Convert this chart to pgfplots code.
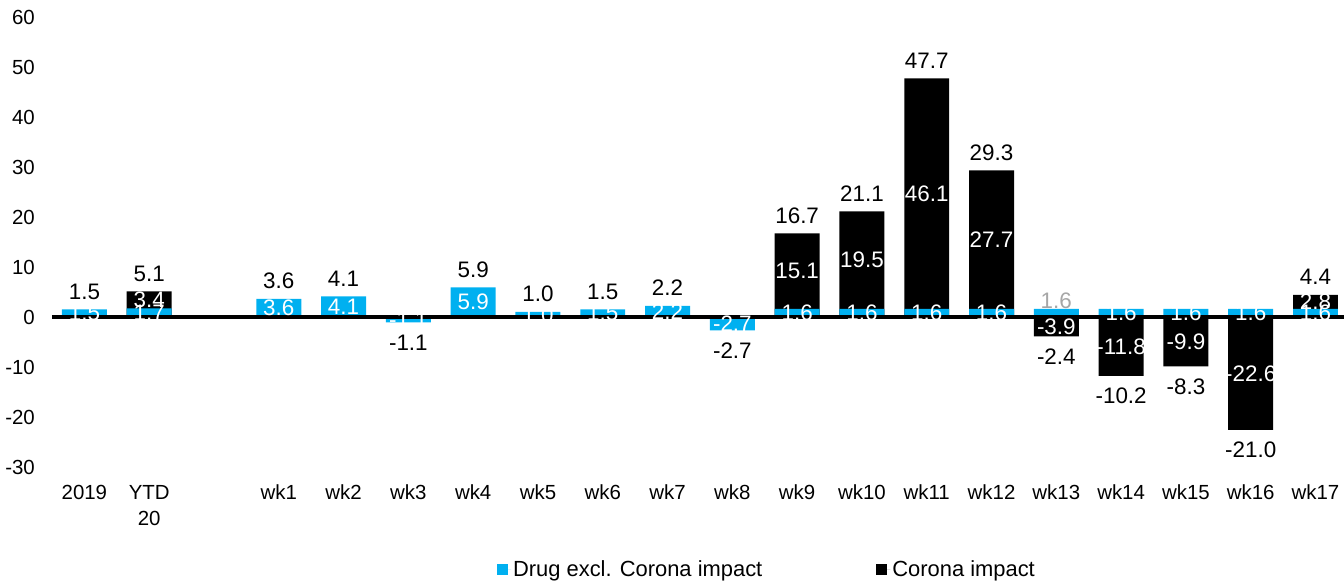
\documentclass[border=0pt]{standalone}
\usepackage{fontspec}
\setmainfont{Liberation Sans}
\usepackage{pgfplots}
\usepackage{pgfplotstable}
\pgfplotsset{compat=1.18}
\definecolor{cblue}{RGB}{0,176,240}
\definecolor{cgray}{RGB}{166,166,166}

\pgfplotstableread{
x drug corona total
0 1.5 0 1.5
1 1.7 3.4 5.1
3 3.6 0 3.6
4 4.1 0 4.1
5 -1.1 0 -1.1
6 5.9 0 5.9
7 1.0 0 1.0
8 1.5 0 1.5
9 2.2 0 2.2
10 -2.7 0 -2.7
11 1.6 15.1 16.7
12 1.6 19.5 21.1
13 1.6 46.1 47.7
14 1.6 27.7 29.3
15 1.6 -3.9 -2.4
16 1.6 -11.8 -10.2
17 1.6 -9.9 -8.3
18 1.6 -22.6 -21.0
19 1.6 2.8 4.4
}\data

\begin{document}
\begin{tikzpicture}
\begin{axis}[
  name=ax,
  width=1292bp, height=450bp, scale only axis,
  xmin=-0.5, xmax=19.44, ymin=-30, ymax=60,
  ytick={-30,-20,-10,0,10,20,30,40,50,60},
  xtick={0,1,3,4,5,6,7,8,9,10,11,12,13,14,15,16,17,18,19},
  xticklabels={2019,{YTD\\20},wk1,wk2,wk3,wk4,wk5,wk6,wk7,wk8,wk9,wk10,wk11,wk12,wk13,wk14,wk15,wk16,wk17},
  axis line style={draw=none},
  major tick length=0pt,
  clip=false,
  /pgf/number format/assume math mode=true,
  ticklabel style={font=\fontsize{20.5}{26}\selectfont},
  xticklabel style={align=center, inner sep=0pt, anchor=north, yshift=-18bp},
  yticklabel style={inner sep=0pt, anchor=east, xshift=-17bp},
  legend style={draw=none, fill=none, at={(0.342,-0.2278)}, anchor=west,
    legend columns=2, font=\fontsize{22}{26}\selectfont,
    /tikz/every even column/.append style={column sep=112bp}},
  legend image code/.code={\fill[#1] (0bp,-5.5bp) rectangle (11bp,5.5bp); \path (0bp,0bp) -- (14bp,0bp);},
]
% black (corona) bars, drawn from 0 to the end of the corona segment
\addplot[ybar, bar width=0.694, bar shift=0pt, fill=black, draw=none, forget plot]
  table[x=x, y expr={(\thisrow{corona}>0) ? (\thisrow{drug}+\thisrow{corona}) : (\thisrow{corona})}] {\data};
% blue (drug) bars
\addplot[ybar, bar width=0.694, bar shift=0pt, fill=cblue, draw=none, forget plot]
  table[x=x, y=drug] {\data};
% zero line
\addplot[black, line width=3.5bp, forget plot] coordinates {(-0.5,0) (19.44,0)};
% blue segment labels
\addplot[only marks, mark=none, forget plot, nodes near coords, point meta=explicit symbolic,
  every node near coord/.append style={anchor=center, inner sep=0pt, text=white, font=\fontsize{22.5}{26}\selectfont},
  restrict expr to domain={abs(\thisrow{x}-15)}{0.5:100}]
  table[x=x, y expr={\thisrow{drug}/2}, meta=drug] {\data};
% gray label wk13
\addplot[only marks, mark=none, forget plot, nodes near coords, point meta=explicit symbolic,
  every node near coord/.append style={anchor=south, inner sep=0pt, text=cgray, font=\fontsize{22.5}{26}\selectfont},
  restrict expr to domain={\thisrow{x}}{14.5:15.5}]
  table[x=x, y=drug, meta=drug] {\data};
% corona segment labels
\addplot[only marks, mark=none, forget plot, nodes near coords, point meta=explicit symbolic,
  every node near coord/.append style={anchor=center, inner sep=0pt, text=white, font=\fontsize{22.5}{26}\selectfont},
  restrict expr to domain={abs(\thisrow{corona})}{0.01:1000}]
  table[x=x, y expr={(\thisrow{corona}>0) ? (\thisrow{drug}+\thisrow{corona}/2) : (\thisrow{corona}/2)}, meta=corona] {\data};
% totals above
\addplot[only marks, mark=none, forget plot, nodes near coords, point meta=explicit symbolic,
  every node near coord/.append style={anchor=south, inner sep=0pt, yshift=10bp, text=black, font=\fontsize{22.5}{26}\selectfont},
  restrict expr to domain={\thisrow{total}}{0:1000}]
  table[x=x, y=total, meta=total] {\data};
% totals below
\addplot[only marks, mark=none, forget plot, nodes near coords, point meta=explicit symbolic,
  every node near coord/.append style={anchor=north, inner sep=0pt, yshift=-12bp, text=black, font=\fontsize{22.5}{26}\selectfont},
  restrict expr to domain={\thisrow{total}}{-1000:0}]
  table[x=x, y expr={min(\thisrow{drug},\thisrow{corona})}, meta=total] {\data};
\addlegendimage{fill=cblue, draw=none}
\addlegendentry{Drug excl. Corona impact}
\addlegendimage{fill=black, draw=none}
\addlegendentry{Corona impact}
\end{axis}
\pgfresetboundingbox
\path[use as bounding box] ([xshift=-52bp,yshift=-114bp]ax.south west) rectangle ([yshift=17bp]ax.north east);
\end{tikzpicture}
\end{document}
